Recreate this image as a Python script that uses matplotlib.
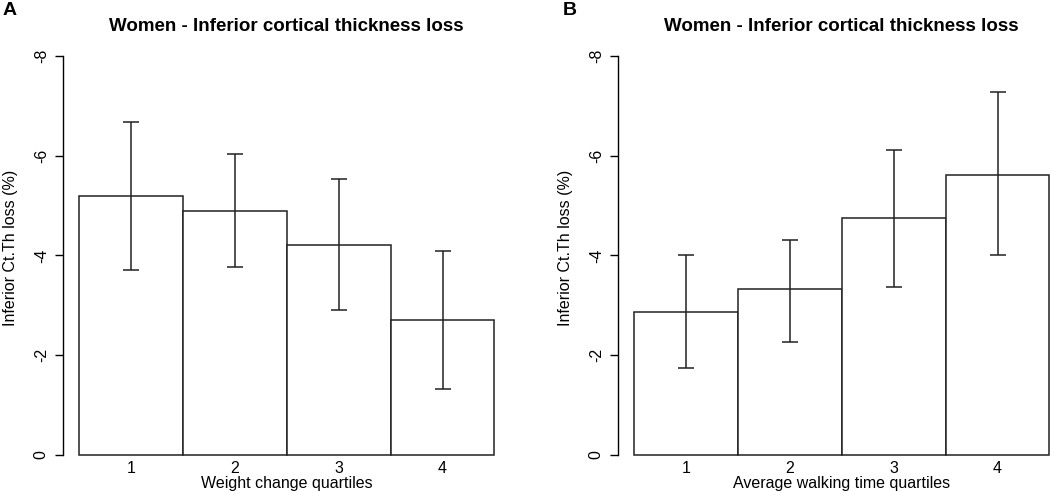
import numpy as np
import matplotlib
matplotlib.use("Agg")
import matplotlib.pyplot as plt

plt.rcParams['font.family'] = ['Liberation Sans', 'DejaVu Sans']

# 数据 (读图估计, 单位 %)
quartiles = ['1', '2', '3', '4']
weight_loss = [-5.19, -4.90, -4.22, -2.70]
weight_hi = [-6.67, -6.03, -5.54, -4.09]
weight_lo = [-3.71, -3.77, -2.91, -1.32]
walk_loss = [-2.87, -3.32, -4.75, -5.62]
walk_hi = [-4.00, -4.32, -6.11, -7.28]
walk_lo = [-1.75, -2.27, -3.36, -4.01]

title = 'Women - Inferior cortical thickness loss'
ylab = 'Inferior Ct.Th loss (%)'
yticks = [0, -2, -4, -6, -8]

W, H = 1050, 491
fig = plt.figure(figsize=(W / 100, H / 100), dpi=100)


def panel(left_px, vals, hi, lo, xlab, letter, letter_x):
    ax = fig.add_axes([left_px / W, 1 - 455 / H, 448.3 / W, 415 / H])
    x = np.arange(len(vals)) + 0.5
    ax.bar(x, vals, width=1.0, color='white', edgecolor='#222222',
           linewidth=1.1, clip_on=False, zorder=2)
    vals = np.array(vals)
    # ylim 反向: 0 在下, -8 在上
    ax.errorbar(x, vals, yerr=[vals - np.array(hi), np.array(lo) - vals],
                fmt='none', ecolor='#222222', elinewidth=1.1, capsize=6,
                capthick=1.1, zorder=3)
    ax.set_xlim(-0.16, 4.16)
    ax.set_ylim(0, -8.32)
    for s in ['top', 'right', 'bottom']:
        ax.spines[s].set_visible(False)
    ax.spines['left'].set_bounds(0, -8)
    ax.spines['left'].set_linewidth(1.0)
    ax.set_yticks(yticks)
    ax.set_yticklabels([str(v) for v in yticks], rotation=90, va='center')
    ax.tick_params(axis='y', length=6, width=1.0, pad=4, labelsize=11.5)
    ax.set_xticks(x)
    ax.set_xticklabels(quartiles)
    ax.tick_params(axis='x', length=0, pad=4, labelsize=11.5)
    ax.set_xlabel(xlab, fontsize=11.5, labelpad=0)
    ax.set_ylabel(ylab, fontsize=11.5)
    ax.yaxis.set_label_coords(-45 / 448.3, 0.5)
    fig.text((left_px + 224) / W, 1 - 31 / H, title, ha='center',
             va='baseline', fontsize=13.5, fontweight='bold')
    fig.text(letter_x / W, 1 - 15 / H, letter, ha='left', va='baseline',
             fontsize=14, fontweight='bold')
    return ax


panel(62.7, weight_loss, weight_hi, weight_lo, 'Weight change quartiles', 'A', 3)
panel(617.7, walk_loss, walk_hi, walk_lo, 'Average walking time quartiles', 'B', 563)

fig.savefig('out.png', dpi=100)
